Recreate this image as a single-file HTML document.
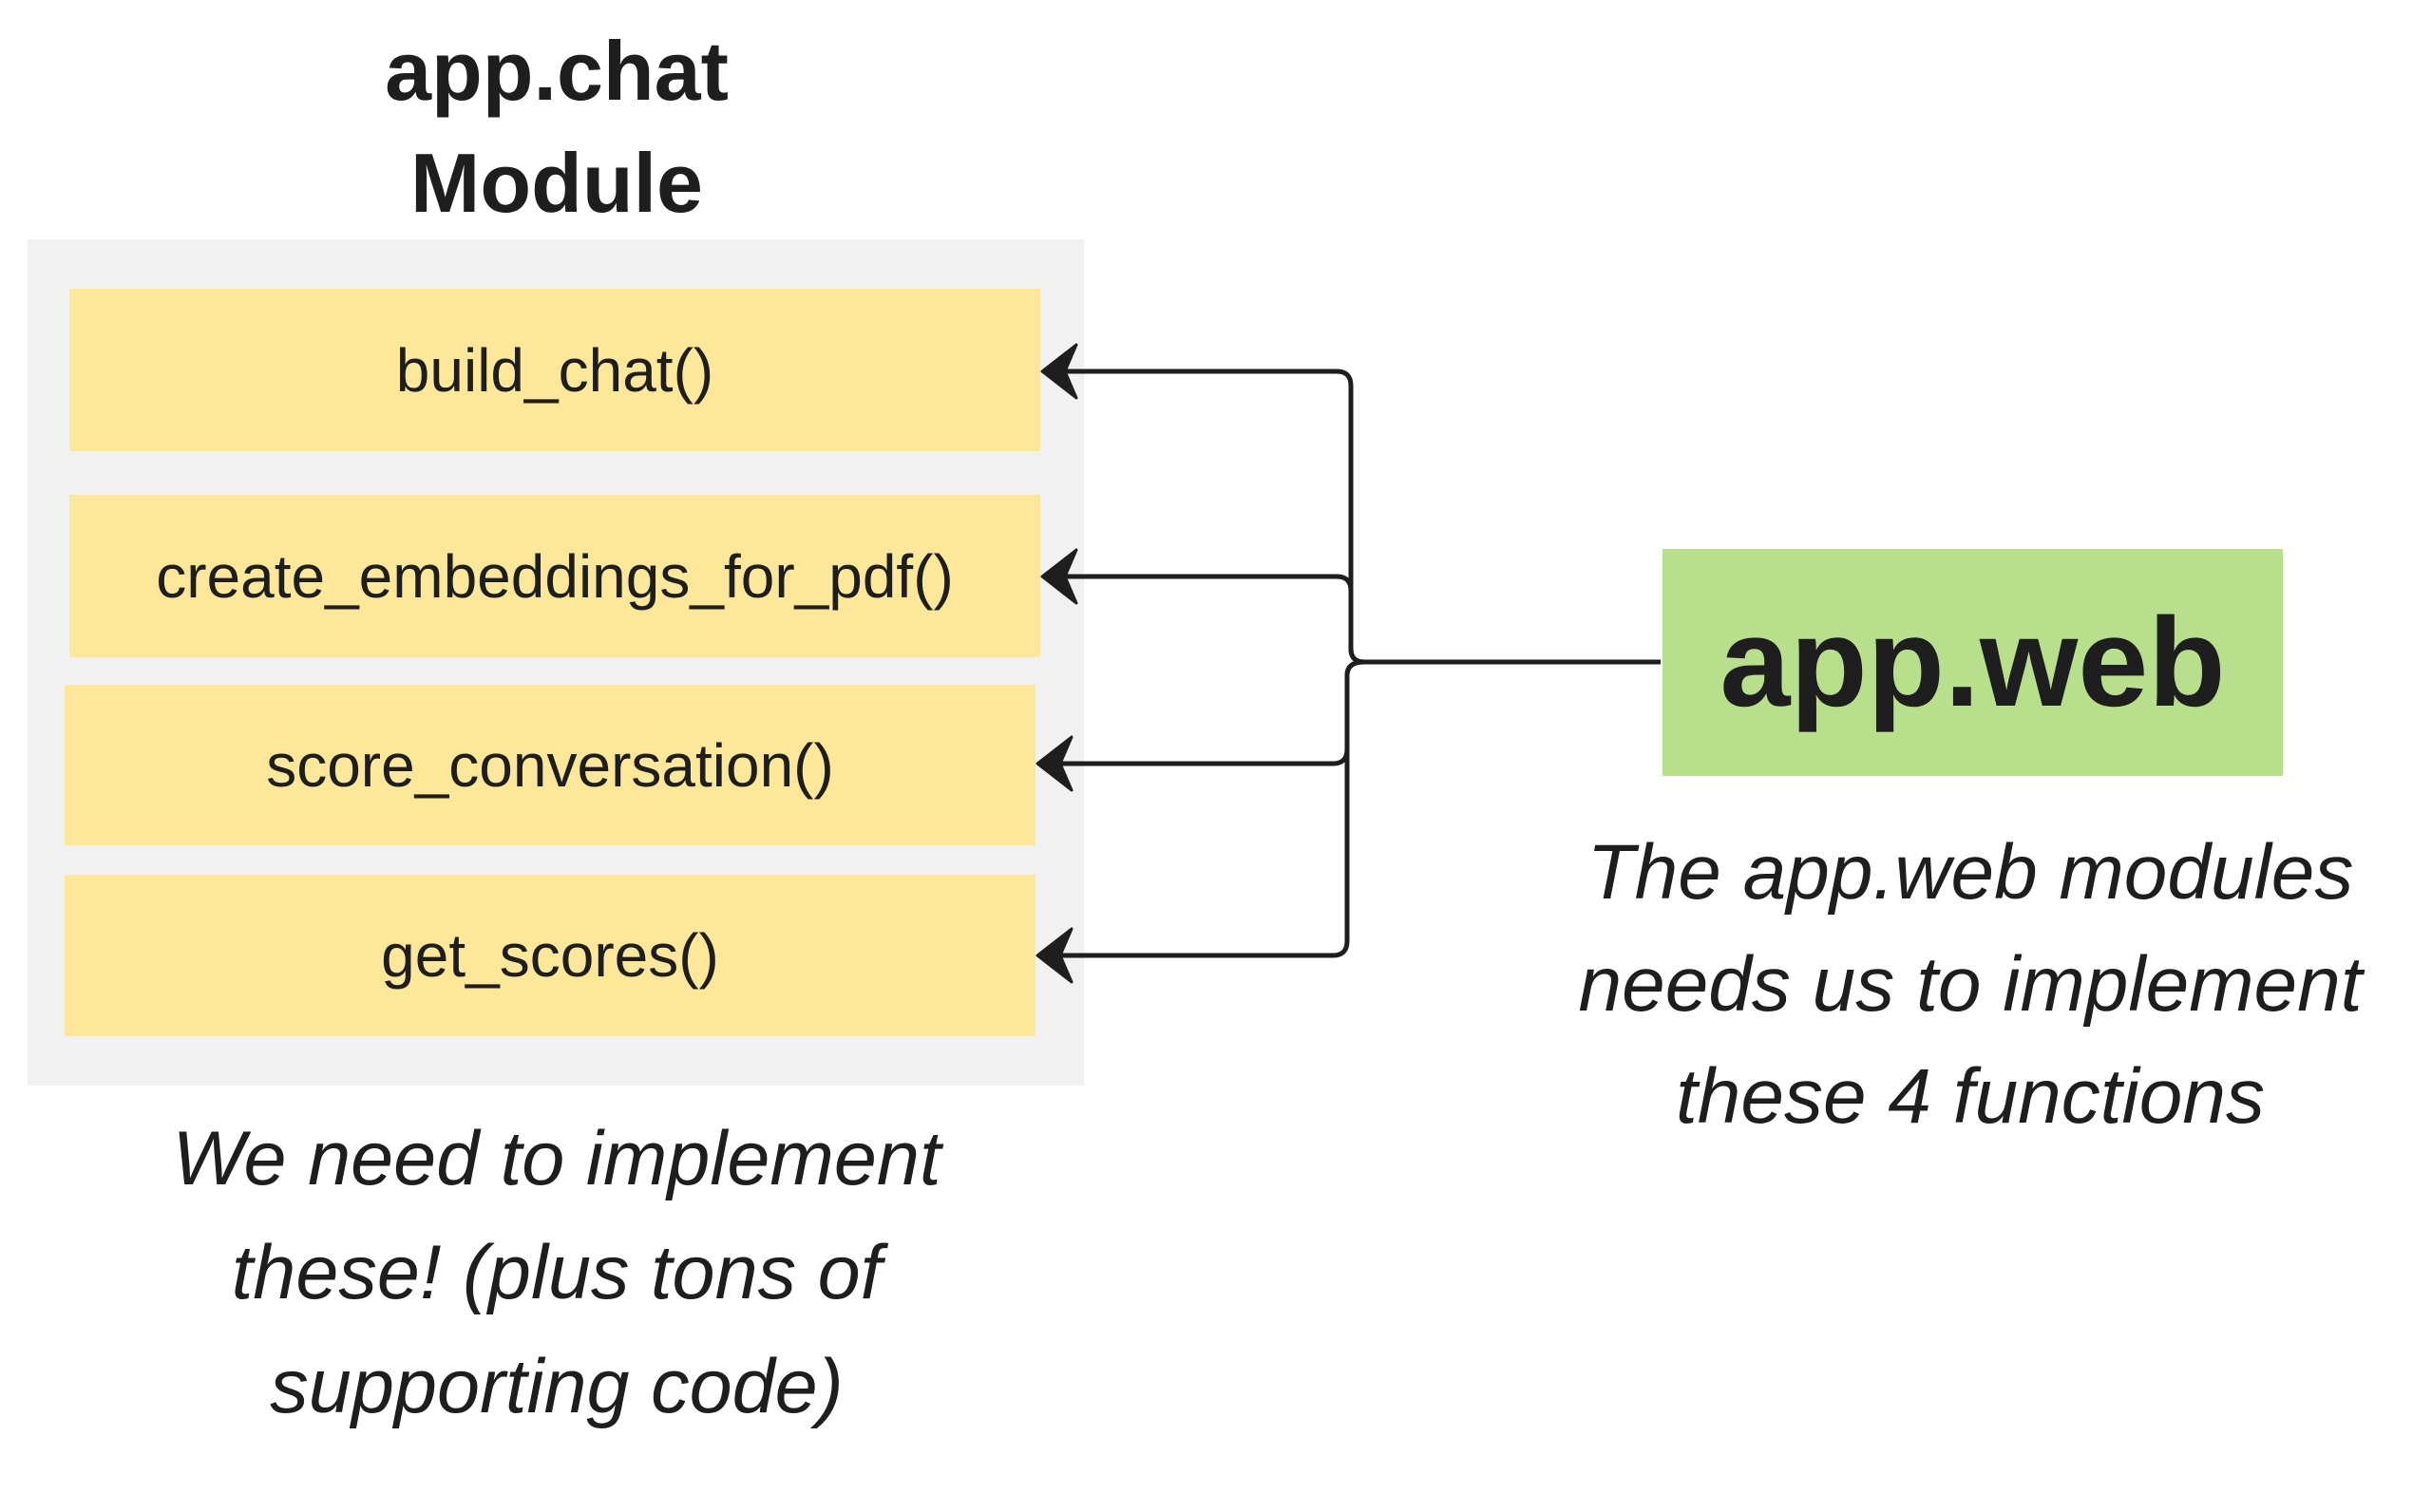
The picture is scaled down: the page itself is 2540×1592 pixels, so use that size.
<!DOCTYPE html>
<html><head><meta charset="utf-8"><style>
body{margin:0;width:2540px;height:1592px;background:#fff;position:relative;overflow:hidden;font-family:"Liberation Sans",sans-serif;color:#1e1e1e}
.a{position:absolute}
.t{position:absolute;text-align:center;white-space:nowrap}
.f{position:absolute;background:#fde799;display:flex;align-items:center;justify-content:center;font-size:64px}
</style></head><body>
<div class="t" style="left:286px;width:600px;top:16px;font-size:88px;font-weight:bold;line-height:118px">app.chat<br>Module</div>
<div class="a" style="left:29px;top:252px;width:1112px;height:891px;background:#f1f1f1"></div>
<div class="f" style="left:73px;top:304px;width:1022px;height:171px">build_chat()</div>
<div class="f" style="left:73px;top:521px;width:1022px;height:171px">create_embeddings_for_pdf()</div>
<div class="f" style="left:68px;top:721px;width:1022px;height:169px">score_conversation()</div>
<div class="f" style="left:68px;top:921px;width:1022px;height:170px">get_scores()</div>
<div class="a" style="left:1750px;top:578px;width:653px;height:239px;background:#b8e08c;display:flex;align-items:center;justify-content:center;font-weight:bold;font-size:133px;color:#1e1e1e">app.web</div>
<div class="t" style="left:86px;width:1000px;top:1160px;font-size:81px;font-style:italic;line-height:120px">We need to implement<br>these! (plus tons of<br>supporting code)</div>
<div class="t" style="left:1574px;width:1000px;top:860px;font-size:82px;font-style:italic;line-height:118px">The app.web modules<br>needs us to implement<br>these 4 functions</div>
<svg class="a" style="left:0;top:0" width="2540" height="1592">
<g fill="none" stroke="#1e1e1e" stroke-width="5">
<path d="M1748 697 H1436 Q1422 697 1422 683 V406 Q1422 391 1407 391 H1110"/>
<path d="M1436 697 Q1422 697 1422 683 V622 Q1422 607 1407 607 H1110"/>
<path d="M1436 697 Q1418 697 1418 711 V789 Q1418 804 1403 804 H1105"/>
<path d="M1436 697 Q1418 697 1418 711 V991 Q1418 1006 1403 1006 H1105"/>
</g>
<g fill="#1e1e1e" stroke="#1e1e1e" stroke-width="3" stroke-linejoin="round">
<path d="M1097 391 L1133 363 L1121 391 L1133 419 Z"/>
<path d="M1097 607 L1133 579 L1121 607 L1133 635 Z"/>
<path d="M1092 804 L1128 776 L1116 804 L1128 832 Z"/>
<path d="M1092 1006 L1128 978 L1116 1006 L1128 1034 Z"/>
</g>
</svg>
</body></html>
